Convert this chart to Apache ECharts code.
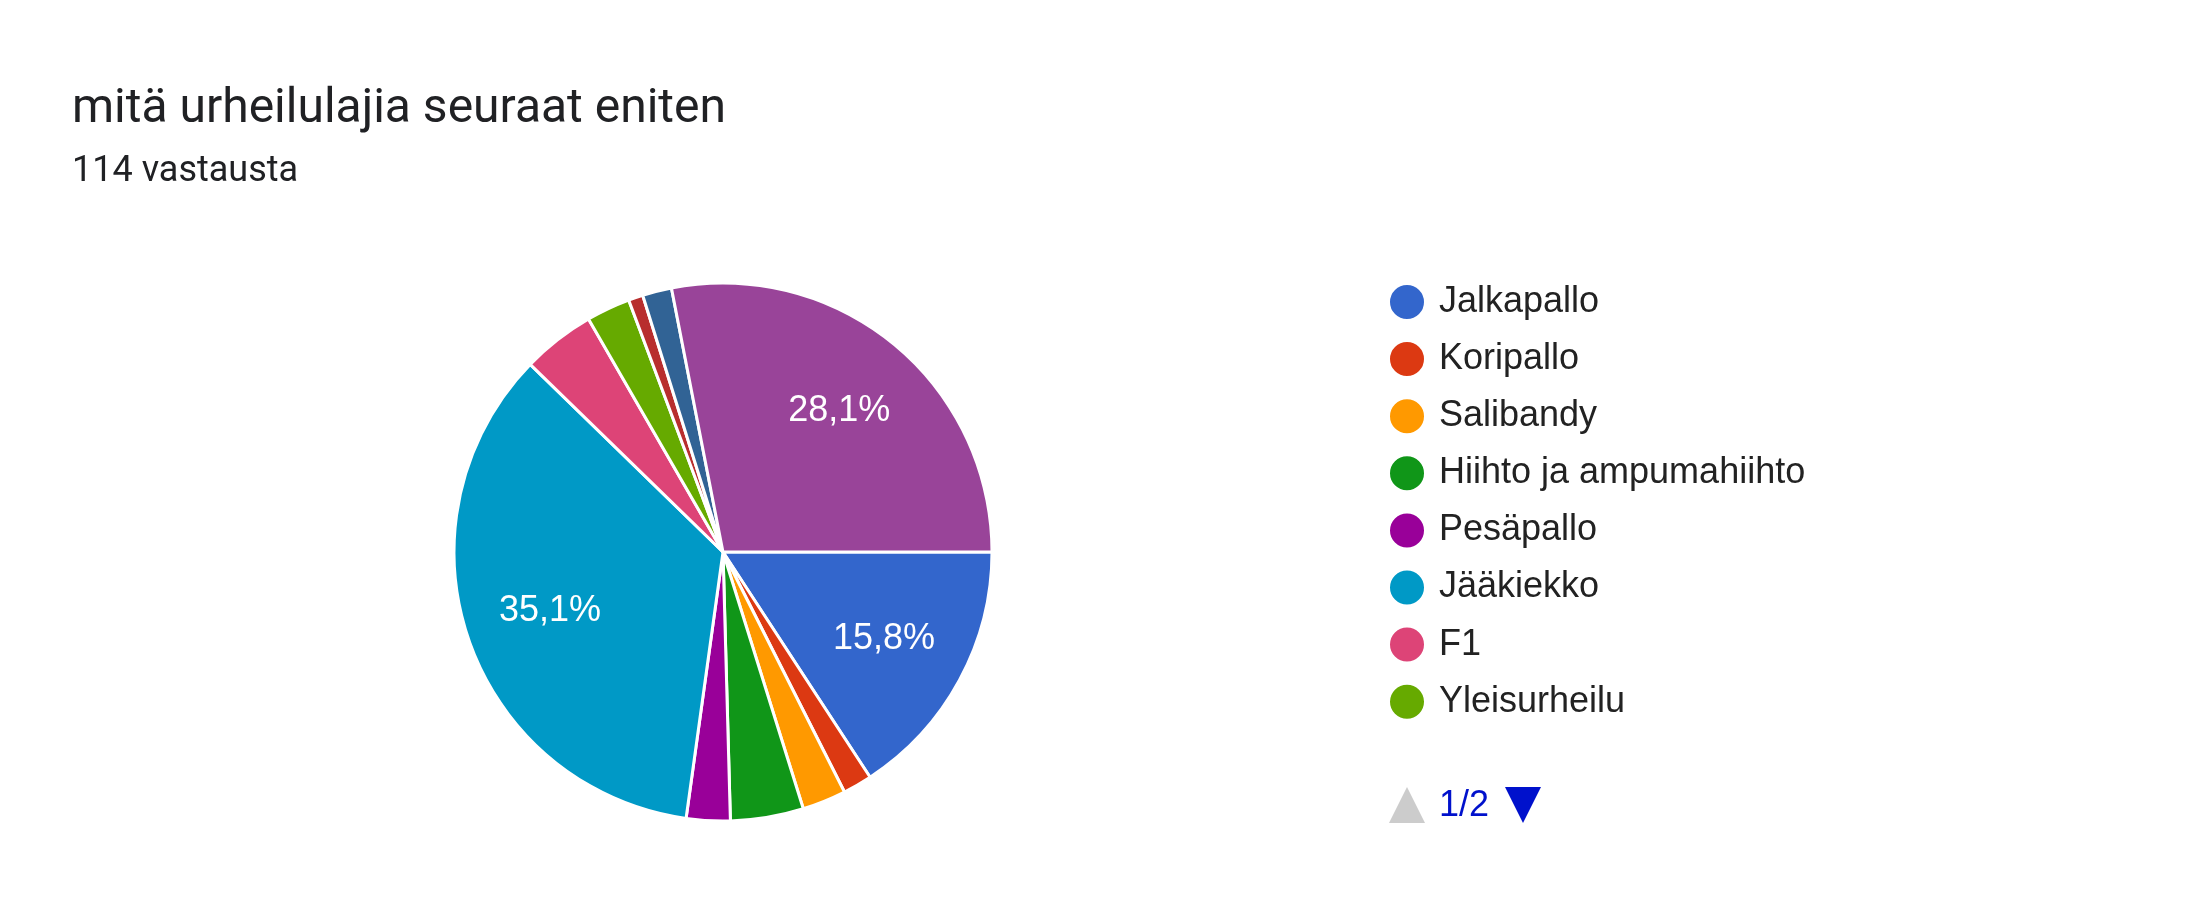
<!DOCTYPE html>
<html lang="fi">
    <head>
        <meta charset="UTF-8">
        <title>mitä urheilulajia seuraat eniten</title>
        <script src="https://cdn.jsdelivr.net/npm/echarts@6/dist/echarts.min.js"></script>
        <style>
            html, body { margin: 0; padding: 0; background: #fff; }
            #chart_1 { width: 2196px; height: 924px; }
        </style>
    </head>
    <body>
        <div id="chart_1"></div>
        <script>
            // vastaukset (114 kpl)
            var lajit = ['Jalkapallo', 'Koripallo', 'Salibandy', 'Hiihto ja ampumahiihto', 'Pesäpallo',
                'Jääkiekko', 'F1', 'Yleisurheilu', 'Tennis', 'Golf', 'En seuraa urheilua'];
            var vastaukset = [18, 2, 3, 5, 3, 40, 5, 3, 1, 2, 32];
            var varit = ['#3366cc', '#dc3912', '#ff9900', '#109618', '#990099',
                '#0099c6', '#dd4477', '#66aa00', '#b82e2e', '#316395', '#994499'];
            var sivunKoko = 8;

            var yhteensa = vastaukset.reduce(function (a, b) { return a + b; }, 0);
            var data = lajit.map(function (nimi, i) {
                return { name: nimi, value: vastaukset[i] };
            });

            let myChart = echarts.init(document.getElementById('chart_1'));

            option = {
                color: varit,
                animation: false,
                title: {
                    text: 'mitä urheilulajia seuraat eniten',
                    subtext: yhteensa + ' vastausta',
                    left: 72,
                    top: 86,
                    itemGap: 20,
                    padding: 0,
                    textStyle: {
                        fontFamily: 'Roboto',
                        fontWeight: 'normal',
                        fontSize: 48,
                        lineHeight: 48,
                        color: '#202124'
                    },
                    subtextStyle: {
                        fontFamily: 'Roboto',
                        fontSize: 36,
                        lineHeight: 36,
                        color: '#202124'
                    }
                },
                legend: {
                    orient: 'vertical',
                    left: 1388,
                    top: 283,
                    padding: 0,
                    data: lajit.slice(0, sivunKoko),
                    icon: 'circle',
                    itemWidth: 36,
                    itemHeight: 36,
                    itemGap: 19.1,
                    textStyle: {
                        fontFamily: 'Liberation Sans',
                        fontSize: 36,
                        lineHeight: 36,
                        color: '#222222',
                        padding: [0, 0, 0, 9]
                    }
                },
                graphic: [{
                    type: 'group',
                    left: 1389,
                    top: 787,
                    children: [{
                        type: 'polygon',
                        shape: { points: [[0, 36], [36, 36], [18, 0]] },
                        style: { fill: '#cccccc' }
                    }, {
                        type: 'text',
                        x: 50,
                        y: 19,
                        style: {
                            text: '1/' + Math.ceil(lajit.length / sivunKoko),
                            font: '36px "Liberation Sans"',
                            fill: '#0011cc',
                            verticalAlign: 'middle'
                        }
                    }, {
                        type: 'polygon',
                        shape: { points: [[116, 0], [152, 0], [134, 36]] },
                        style: { fill: '#0011cc' }
                    }]
                }],
                series: [{
                    name: 'vastaukset',
                    type: 'pie',
                    center: [723, 552],
                    radius: 269,
                    startAngle: 0,
                    clockwise: true,
                    label: { show: false },
                    labelLine: { show: false },
                    itemStyle: { borderColor: '#ffffff', borderWidth: 3 },
                    data: data
                }, {
                    // vain prosenttitekstit, sijoitettu n. 2/3 säteestä
                    name: 'osuudet',
                    type: 'pie',
                    silent: true,
                    center: [723, 552],
                    radius: [91, 269],
                    startAngle: 0,
                    clockwise: true,
                    itemStyle: { color: 'rgba(0,0,0,0)' },
                    labelLine: { show: false },
                    label: {
                        show: true,
                        position: 'inside',
                        fontFamily: 'Liberation Sans',
                        fontSize: 36,
                        color: '#ffffff',
                        formatter: function (p) {
                            var osuus = p.value / yhteensa * 100;
                            if (osuus < 10) return '';
                            return osuus.toFixed(1).replace('.', ',') + '%';
                        }
                    },
                    data: data
                }]
            };

            myChart.setOption(option);
        </script>
    </body>
</html>
